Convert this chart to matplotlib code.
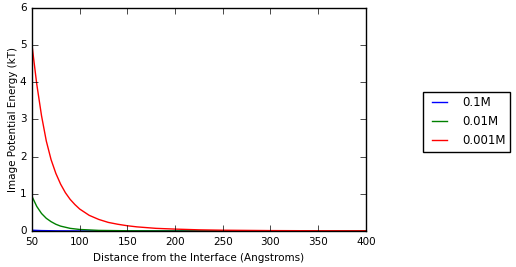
import matplotlib
matplotlib.use('Agg')
import matplotlib.pyplot as plt

# values
dist_red = [50, 55, 60, 65, 70, 75, 80, 85, 90, 95, 100, 110, 120, 130, 140, 150,
            160, 170, 180, 190, 200, 225, 250, 300, 350, 400]
u_001 = [5.0, 3.95, 3.1, 2.42, 1.92, 1.55, 1.26, 1.03, 0.85, 0.71, 0.59, 0.42, 0.31,
         0.23, 0.18, 0.14, 0.11, 0.09, 0.07, 0.06, 0.05, 0.03, 0.02, 0.01, 0.005, 0.003]

dist_green = [50, 55, 60, 65, 70, 75, 80, 90, 100, 120, 150, 200, 300, 400]
u_01 = [0.93, 0.66, 0.47, 0.34, 0.25, 0.18, 0.13, 0.07, 0.04, 0.015, 0.005, 0.001, 0.0, 0.0]

dist_blue = [50, 60, 75, 100, 150, 400]
u_1 = [0.02, 0.01, 0.004, 0.001, 0.0, 0.0]

plt.style.use('classic')

fig = plt.figure(figsize=(5.16, 2.67), dpi=100)
ax = fig.add_axes([0.062, 0.135, 0.647, 0.835])
ax.plot(dist_blue, u_1, 'b-', label='0.1M')
ax.plot(dist_green, u_01, 'g-', label='0.01M')
ax.plot(dist_red, u_001, 'r-', label='0.001M')
ax.set_xlim(50, 400)
ax.set_ylim(0, 6)
ax.tick_params(labelsize=7.5)
ax.set_xlabel('Distance from the Interface (Angstroms)', fontsize=7.5)
ax.set_ylabel('Image Potential Energy (kT)', fontsize=7.5, labelpad=1)
ax.legend(loc='center left', bbox_to_anchor=(1.155, 0.49), fontsize=8.5,
          handlelength=1.9, handletextpad=0.95)

fig.savefig('out.png', dpi=100)
